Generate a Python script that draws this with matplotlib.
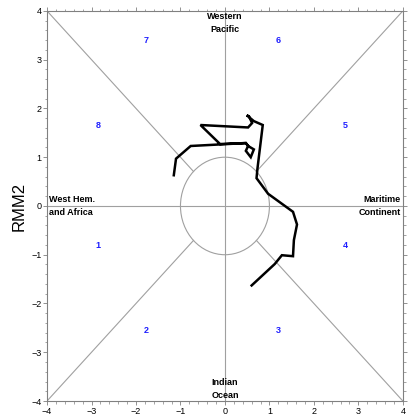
import numpy as np
import matplotlib.pyplot as plt
from matplotlib.patches import Circle

plt.rcParams["font.family"] = ["Liberation Sans", "DejaVu Sans"]

# RMM index trajectory (RMM1, RMM2)
rmm1 = [0.60, 1.12, 1.28, 1.53, 1.55, 1.62, 1.53, 0.97, 0.71, 0.73, 0.85,
        0.65, 0.49, 0.54, 0.61, 0.52, -0.55, -0.11, 0.47, 0.52, 0.65, 0.58,
        0.47, 0.52, 0.47, -0.77, -1.10, -1.15]
rmm2 = [-1.63, -1.19, -1.01, -1.03, -0.70, -0.38, -0.12, 0.25, 0.57, 0.76, 1.66,
        1.74, 1.86, 1.84, 1.70, 1.61, 1.66, 1.27, 1.29, 1.23, 1.16, 1.00,
        1.13, 1.23, 1.29, 1.23, 0.97, 0.63]

phase_labels = ["1", "2", "3", "4", "5", "6", "7", "8"]
phase_x = [-2.85, -1.78, 1.21, 2.70, 2.70, 1.19, -1.78, -2.85]
phase_y = [-0.82, -2.56, -2.56, -0.82, 1.64, 3.39, 3.39, 1.64]

fig = plt.figure(figsize=(4.09, 4.15), dpi=100)
ax = fig.add_axes([0.115, 0.0337, 0.870, 0.940])
ax.set_xlim(-4, 4)
ax.set_ylim(-4, 4)

grey = "#a0a0a0"
ax.axhline(0, color=grey, lw=0.8, zorder=1)
ax.axvline(0, color=grey, lw=0.8, zorder=1)
r = np.sqrt(0.5)
for sx in (-1, 1):
    for sy in (-1, 1):
        ax.plot([sx * r, sx * 4], [sy * r, sy * 4], color=grey, lw=0.8, zorder=1)
ax.add_patch(Circle((0, 0), 1, fill=False, ec=grey, lw=0.8, zorder=1))

ax.plot(rmm1, rmm2, color="black", lw=1.8, zorder=3, solid_joinstyle="miter")

for lab, x, y in zip(phase_labels, phase_x, phase_y):
    ax.text(x, y, lab, color="#1f1fff", fontsize=6.5, fontweight="bold",
            ha="center", va="center")

kw = dict(fontsize=6.5, fontweight="bold", linespacing=1.6)
ax.text(0, 3.75, "Western\nPacific", ha="center", va="center", **kw)
ax.text(0, -3.75, "Indian\nOcean", ha="center", va="center", **kw)
ax.text(-3.95, 0, "West Hem.\nand Africa", ha="left", va="center", **kw)
ax.text(3.95, 0, "Maritime\nContinent", ha="right", va="center", **kw)

ax.set_xticks(np.arange(-4, 5, 1))
ax.set_yticks(np.arange(-4, 5, 1))
ax.set_xticks(np.arange(-4, 4.01, 0.2), minor=True)
ax.set_yticks(np.arange(-4, 4.01, 0.2), minor=True)
ax.tick_params(which="both", direction="out", labelsize=6.5, color="#808080")
ax.tick_params(which="both", top=True, right=True)
ax.tick_params(which="major", length=3, width=0.6, pad=1)
ax.tick_params(which="minor", length=1.8, width=0.5)
for s in ax.spines.values():
    s.set_color("#808080")
    s.set_linewidth(0.8)

ax.set_ylabel("RMM2", fontsize=12, labelpad=3)

fig.savefig("out.png", dpi=100, facecolor="white")
